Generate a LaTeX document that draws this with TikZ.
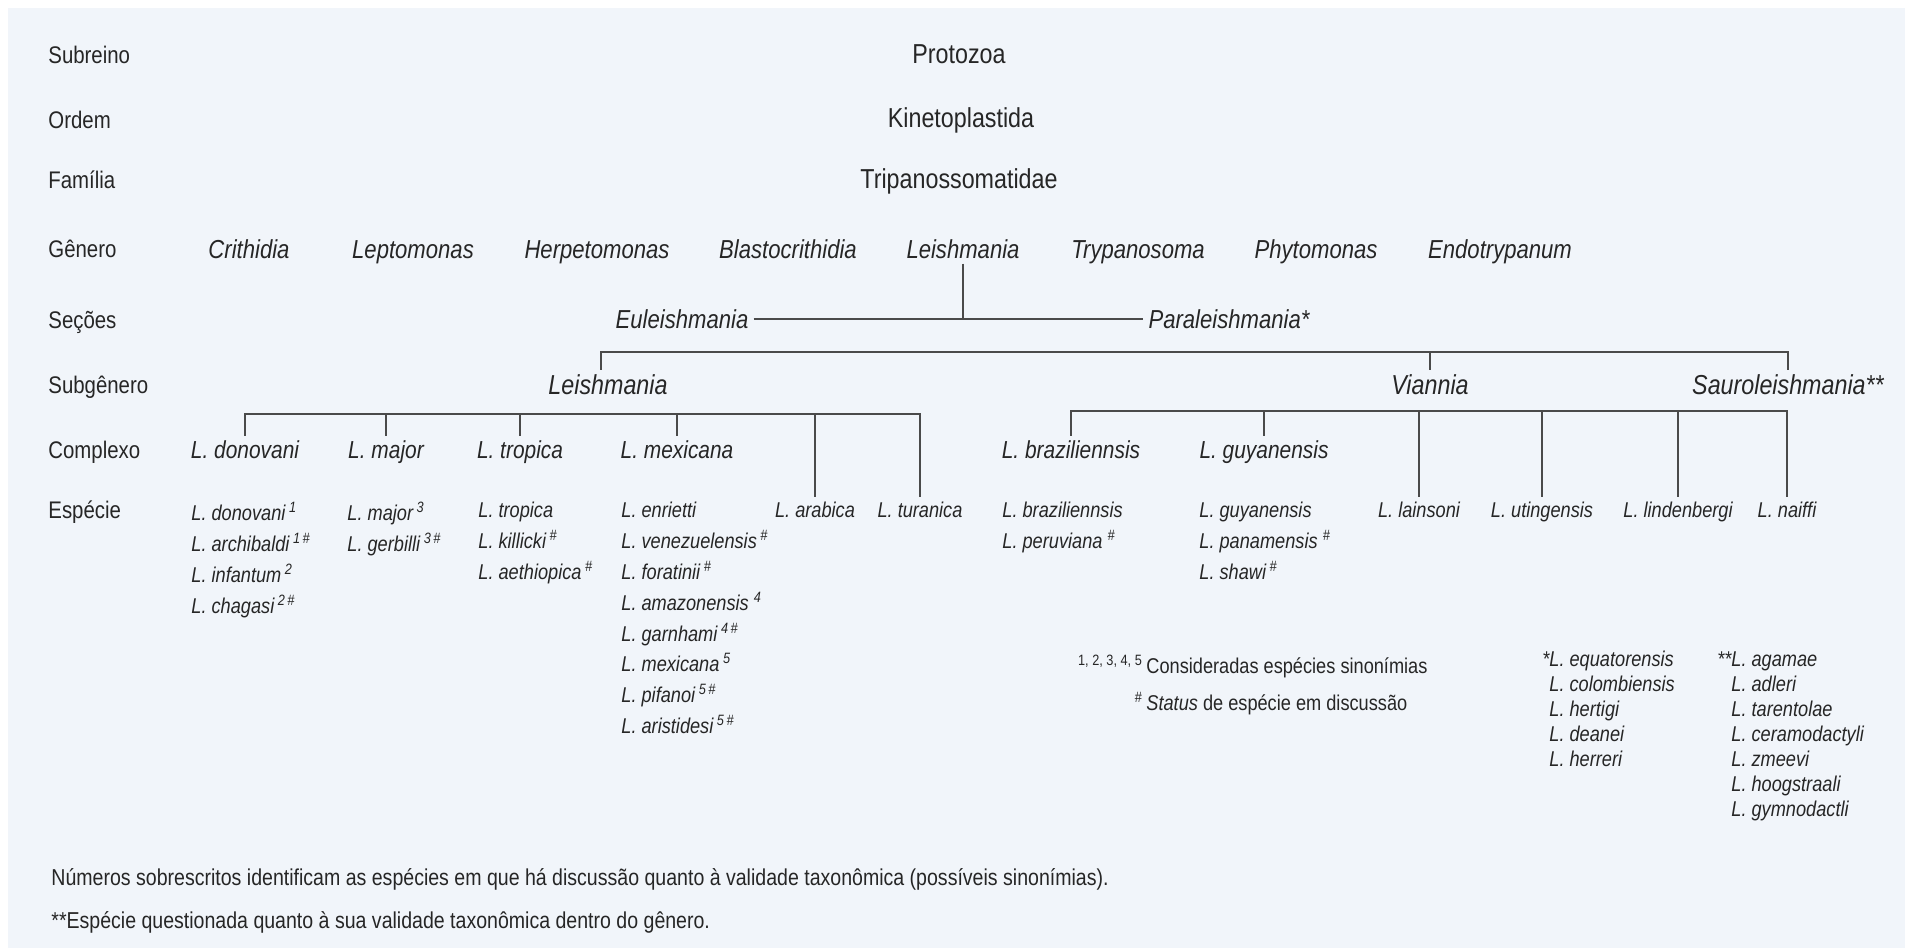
\documentclass[tikz,border=0pt]{standalone}
\usepackage{fontspec}
\setmainfont{Liberation Sans}[FakeStretch=0.85]

\definecolor{ink}{HTML}{262626}
\definecolor{paper}{HTML}{F1F5FA}
\definecolor{rule}{HTML}{4A4A4A}

\tikzset{
  rowlbl/.style={anchor=west, inner sep=0pt, text=ink, font=\fontsize{12}{14}\selectfont, text height=8.6pt, text depth=0pt},
  rank/.style={inner sep=2.5pt, text=ink, font=\fontsize{13.7}{16}\selectfont, text height=9.8pt, text depth=0pt},
  genus/.style={rank, font=\fontsize{13}{16}\selectfont\itshape, text height=9.3pt},
  subg/.style={rank, font=\fontsize{13.7}{16}\selectfont\itshape},
  cplx/.style={rank, font=\fontsize{12.3}{15}\selectfont\itshape, text height=8.8pt},
  spc/.style={rank, font=\fontsize{10.7}{15.5}\selectfont\itshape, text height=7.7pt},
  splist/.style={anchor=north west, inner sep=0pt, align=left, text=ink, font=\fontsize{10.7}{15.4}\selectfont\itshape},
  starlist/.style={splist, font=\fontsize{10.7}{12.5}\selectfont\itshape},
  note/.style={anchor=base west, inner sep=0pt, text=ink, font=\fontsize{10.7}{13}\selectfont},
  foot/.style={anchor=base west, inner sep=0pt, text=ink, font=\fontsize{11.5}{14}\selectfont},
  link/.style={draw=rule, line width=0.6pt},
}

\begin{document}
\begin{tikzpicture}[x=0.5pt, y=-0.5pt]
  \fill[white] (0,0) rectangle (1905,948);
  \fill[paper] (8,8) rectangle (1905,948);
  \useasboundingbox (0,0) rectangle (1905,948);

  % rank labels
  \node[rowlbl] (lSub) at (48,55) {Subreino};
  \node[rowlbl] (lOrd) at (48,120) {Ordem};
  \node[rowlbl] (lFam) at (48,180) {Família};
  \node[rowlbl] (lGen) at (48,249) {Gênero};
  \node[rowlbl] (lSec) at (48,320) {Seções};
  \node[rowlbl] (lSbg) at (48,385) {Subgênero};
  \node[rowlbl] (lCpx) at (48,450) {Complexo};
  \node[rowlbl] (lEsp) at (48,510) {Espécie};

  \node[rank] (prot) at (959,54) {Protozoa};
  \node[rank] (kin) at (961,118) {Kinetoplastida};
  \node[rank] (tri) at (959,179) {Tripanossomatidae};

  % genera
  \node[genus] (gCri) at (249,249) {Crithidia};
  \node[genus] (gLep) at (413,249) {Leptomonas};
  \node[genus] (gHer) at (597,249) {Herpetomonas};
  \node[genus] (gBla) at (788,249) {Blastocrithidia};
  \node[genus] (gLei) at (963,249) {Leishmania};
  \node[genus] (gTry) at (1138,249) {Trypanosoma};
  \node[genus] (gPhy) at (1316,249) {Phytomonas};
  \node[genus] (gEnd) at (1500,249) {Endotrypanum};

  % sections
  \node[genus] (eul) at (682,319) {Euleishmania};
  \node[genus] (par) at (1229,319) {Paraleishmania*};
  \draw[link] (gLei.south) -- (gLei.south |- eul.east);
  \draw[link] (eul.east) -- (par.west);

  % subgenera
  \node[subg] (subL) at (608,385) {Leishmania};
  \node[subg] (subV) at (1430,385) {Viannia};
  \node[subg] (subS) at (1788,385) {Sauroleishmania**};
  \coordinate (brSub) at (0,352);
  \draw[link] ([xshift=-3.5pt]subL.north) -- ([xshift=-3.5pt]subL.north |- brSub) -| (subS.north);
  \draw[link] (subV.north) -- (subV.north |- brSub);

  % complexes
  \node[cplx] (cDon) at (245,450) {L. donovani};
  \node[cplx] (cMaj) at (386,450) {L. major};
  \node[cplx] (cTro) at (520,450) {L. tropica};
  \node[cplx] (cMex) at (677,450) {L. mexicana};
  \node[cplx] (cBra) at (1071,450) {L. braziliennsis};
  \node[cplx] (cGuy) at (1264,450) {L. guyanensis};

  % single species
  \node[spc] (sAra) at (815,510) {L. arabica};
  \node[spc] (sTur) at (920,510) {L. turanica};
  \node[spc] (sLai) at (1419,510) {L. lainsoni};
  \node[spc] (sUti) at (1542,510) {L. utingensis};
  \node[spc] (sLin) at (1678,510) {L. lindenbergi};
  \node[spc] (sNai) at (1787,510) {L. naiffi};

  \coordinate (brLei) at (0,414);
  \draw[link] (cDon.north) -- (cDon.north |- brLei) -| (sTur.north);
  \draw[link] (cMaj.north) -- (cMaj.north |- brLei);
  \draw[link] (cTro.north) -- (cTro.north |- brLei);
  \draw[link] (cMex.north) -- (cMex.north |- brLei);
  \draw[link] (sAra.north) -- (sAra.north |- brLei);

  \coordinate (brVia) at (0,411);
  \draw[link] (cBra.north) -- (cBra.north |- brVia) -| (sNai.north);
  \draw[link] (cGuy.north) -- (cGuy.north |- brVia);
  \draw[link] (sLai.north) -- (sLai.north |- brVia);
  \draw[link] (sUti.north) -- (sUti.north |- brVia);
  \draw[link] (sLin.north) -- (sLin.north |- brVia);

  % species lists
  \node[splist] (lDon) at (191,502) {L. donovani\,\textsuperscript{1}\\L. archibaldi\,\textsuperscript{1\,\#}\\L. infantum\,\textsuperscript{2}\\L. chagasi\,\textsuperscript{2\,\#}};
  \node[splist] (lMaj) at (347,502) {L. major\,\textsuperscript{3}\\L. gerbilli\,\textsuperscript{3\,\#}};
  \node[splist] (lTro) at (478,502) {L. tropica\\L. killicki\,\textsuperscript{\#}\\L. aethiopica\,\textsuperscript{\#}};
  \node[splist] (lMex) at (621,502) {L. enrietti\\L. venezuelensis\,\textsuperscript{\#}\\L. foratinii\,\textsuperscript{\#}\\L. amazonensis\ \textsuperscript{4}\\L. garnhami\,\textsuperscript{4\,\#}\\L. mexicana\,\textsuperscript{5}\\L. pifanoi\,\textsuperscript{5\,\#}\\L. aristidesi\,\textsuperscript{5\,\#}};
  \node[splist] (lBra) at (1002,502) {L. braziliennsis\\L. peruviana\ \textsuperscript{\#}};
  \node[splist] (lGuy) at (1199,502) {L. guyanensis\\L. panamensis\ \textsuperscript{\#}\\L. shawi\,\textsuperscript{\#}};

  \node[starlist] (lEqu) at (1549,651) {\llap{*}L. equatorensis\\L. colombiensis\\L. hertigi\\L. deanei\\L. herreri};
  \node[starlist] (lAga) at (1731,651) {\llap{**}L. agamae\\L. adleri\\L. tarentolae\\L. ceramodactyli\\L. zmeevi\\L. hoogstraali\\L. gymnodactli};

  % legend
  \node[note] (nSyn) at (1146,673) {\llap{\textsuperscript{1, 2, 3, 4, 5}\,}Consideradas espécies sinonímias};
  \node[note] (nSta) at (1146,710) {\llap{\textsuperscript{\#}\,}\textit{Status} de espécie em discussão};

  \node[foot] (f1) at (51,885) {Números sobrescritos identificam as espécies em que há discussão quanto à validade taxonômica (possíveis sinonímias).};
  \node[foot] (f2) at (51,928) {**Espécie questionada quanto à sua validade taxonômica dentro do gênero.};
\end{tikzpicture}
\end{document}
